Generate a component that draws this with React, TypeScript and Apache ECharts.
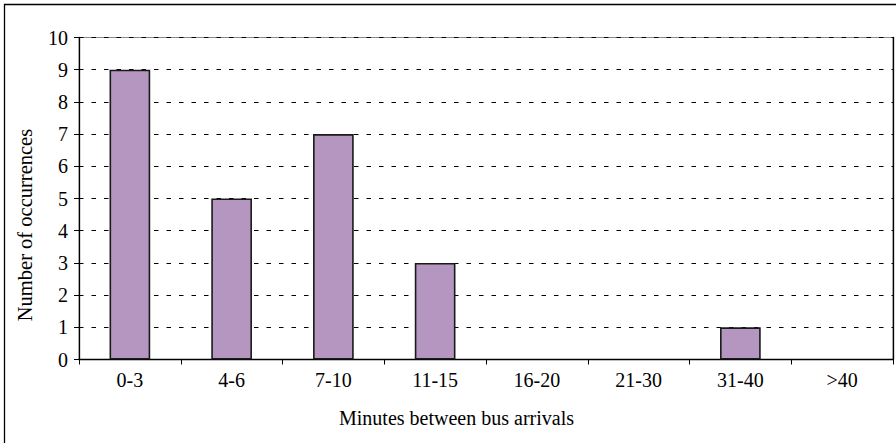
import React, { useEffect, useRef } from "react";
import * as echarts from "echarts";

const categories = ["0-3", "4-6", "7-10", "11-15", "16-20", "21-30", "31-40", ">40"];
const occurrences = [9, 5, 7, 3, 0, 0, 1, 0];
const yTicks = { min: 0, max: 10, interval: 1 };
const xTitle = "Minutes between bus arrivals";
const yTitle = "Number of occurrences";

const FONT = "'Liberation Serif', 'Times New Roman', serif";

export default function App() {
  const ref = useRef<HTMLDivElement>(null);

  useEffect(() => {
    document.body.style.margin = "0";
    const chart = echarts.init(ref.current!, null, { renderer: "svg" });
    // empty classes get no outline, so nothing is stroked along the baseline
    const barData = occurrences.map((v) =>
      v === 0 ? { value: v, itemStyle: { borderWidth: 0 } } : v
    );
    chart.setOption({
      animation: false,
      backgroundColor: "#ffffff",
      textStyle: { fontFamily: FONT, color: "#000" },
      grid: {
        left: 79,
        top: 37.5,
        right: 3,
        bottom: 83.5,
        containLabel: false,
        show: true,
        borderColor: "#8a8a8a",
        borderWidth: 1,
        backgroundColor: "transparent",
      },
      xAxis: {
        type: "category",
        data: categories,
        boundaryGap: true,
        axisLine: { show: true, lineStyle: { color: "#000", width: 1.3 } },
        axisTick: { show: true, length: 5, inside: false, alignWithLabel: false, lineStyle: { color: "#000" } },
        axisLabel: { fontFamily: FONT, fontSize: 20, color: "#000", margin: 10 },
        splitLine: { show: false },
      },
      yAxis: [
        {
          type: "value",
          min: yTicks.min,
          max: yTicks.max,
          interval: yTicks.interval,
          axisLine: { show: true, lineStyle: { color: "#000", width: 1.3 } },
          axisTick: { show: true, length: 5, inside: false, lineStyle: { color: "#000" } },
          axisLabel: { fontFamily: FONT, fontSize: 20, color: "#000", margin: 11 },
          splitLine: { show: true, lineStyle: { color: "#000", type: [4.5, 8], width: 1 } },
        },
        {
          type: "value",
          position: "right",
          min: yTicks.min,
          max: yTicks.max,
          interval: yTicks.interval,
          axisLine: { show: true, lineStyle: { color: "#000", width: 1.3 } },
          axisTick: { show: false },
          axisLabel: { show: false },
          splitLine: { show: false },
        },
      ],
      series: [
        {
          type: "bar",
          data: barData,
          barWidth: "40%",
          itemStyle: { color: "#b496c0", borderColor: "#1a1a1a", borderWidth: 1.6 },
        },
      ],
      graphic: [
        {
          type: "rect",
          shape: { x: 4.5, y: 4.5, width: 940, height: 480 },
          style: { fill: "none", stroke: "#000", lineWidth: 1.3 },
          silent: true,
          z: -1,
        },
        {
          type: "text",
          x: 456.5,
          y: 418,
          style: {
            text: xTitle,
            font: `20px ${FONT}`,
            fill: "#000",
            align: "center",
            verticalAlign: "middle",
          },
        },
        {
          type: "text",
          x: 25,
          y: 225,
          rotation: Math.PI / 2,
          style: {
            text: yTitle,
            font: `20.5px ${FONT}`,
            fill: "#000",
            align: "center",
            verticalAlign: "middle",
          },
        },
      ],
    });
    return () => chart.dispose();
  }, []);

  return (
    <div
      ref={ref}
      style={{ position: "absolute", left: 0, top: 0, width: 896, height: 443 }}
    />
  );
}
